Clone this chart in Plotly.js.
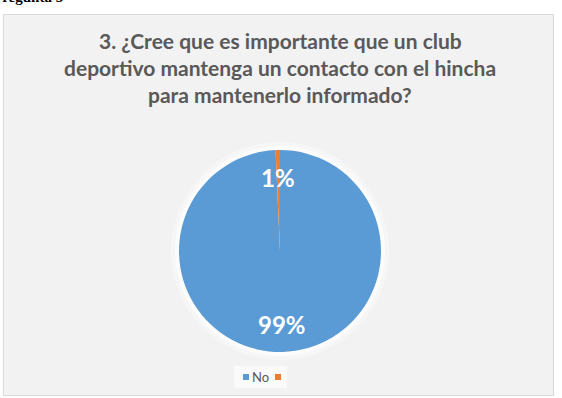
<!DOCTYPE html>
<html>
<head>
<meta charset="utf-8">
<script src="https://cdn.plot.ly/plotly-3.0.1.min.js"></script>
<style>html,body{margin:0;padding:0;background:#fff;overflow:hidden}#chart{width:562px;height:398px}</style>
</head>
<body>
<div id="chart"></div>
<script>
// Data
const labels = ["No", ""];
const values = [99.3, 0.7];
const colors = ["#5b9bd5", "#ed7d31"];
const titleLines = ["3. ¿Cree que es importante que un club", "deportivo mantenga un contacto con el hincha", "para mantenerlo informado?"];
const headerText = "Pregunta 3";

const W = 562, H = 398;
const px = x => x / W;
const py = y => 1 - y / H;

// Pie geometry (pixels)
const cx = 280, cy = 251, R = 101;

const total = values.reduce((a, b) => a + b, 0);
const annotations = [];
let cum = 0;
values.forEach((v, i) => {
  const frac = v / total;
  const mid = (cum + frac / 2) * 2 * Math.PI; // clockwise from top
  cum += frac;
  const rr = 0.73 * R;
  const x = cx + rr * Math.sin(mid);
  const y = cy - rr * Math.cos(mid);
  annotations.push({
    xref: "paper", yref: "paper", x: px(x), y: py(y),
    text: Math.round(frac * 100) + "%", showarrow: false,
    xanchor: "center", yanchor: "middle",
    font: {family: "Lato, 'Open Sans', sans-serif", size: 24, color: "#ffffff", weight: "bold"}
  });
});

// Title lines
titleLines.forEach((t, i) => {
  annotations.push({
    xref: "paper", yref: "paper", x: px(280), y: py(41 + i * 26.5),
    text: "<b>" + t + "</b>", showarrow: false, xanchor: "center", yanchor: "middle",
    font: {family: "Lato, 'Open Sans', sans-serif", size: 21, color: "#595959"}
  });
});

// Header text (cut off at top, as in the reference)
annotations.push({
  xref: "paper", yref: "paper", x: px(-9), y: py(-3),
  text: "<b>" + headerText + "</b>", showarrow: false, xanchor: "left", yanchor: "middle",
  font: {family: "'Liberation Serif', 'Times New Roman', serif", size: 15, color: "#000000"}
});

// Legend (manual)
const legendShapes = [];
const legX = [243, 275];
labels.forEach((l, i) => {
  legendShapes.push({
    type: "rect", xref: "paper", yref: "paper",
    x0: px(legX[i]), x1: px(legX[i] + 6), y0: py(380), y1: py(374),
    fillcolor: colors[i], line: {width: 0}
  });
  if (l) {
    annotations.push({
      xref: "paper", yref: "paper", x: px(legX[i] + 7), y: py(377),
      text: l, showarrow: false, xanchor: "left", yanchor: "middle",
      font: {family: "Lato, 'Open Sans', sans-serif", size: 13, color: "#595959"}
    });
  }
});

const shapes = [
  {type: "rect", xref: "paper", yref: "paper", x0: px(3.5), x1: px(553.5), y0: py(395.5), y1: py(14.5),
   fillcolor: "#f2f2f2", line: {color: "#d9d9d9", width: 1}, layer: "below"},
  {type: "rect", xref: "paper", yref: "paper", x0: px(234), x1: px(287), y0: py(388), y1: py(366),
   fillcolor: "#fafafa", line: {width: 0}, layer: "below"},
  {type: "circle", xref: "paper", yref: "paper", x0: px(cx - R - 4), x1: px(cx + R + 4), y0: py(cy + R + 4), y1: py(cy - R - 4),
   fillcolor: "rgba(255,255,255,0.6)", line: {width: 0}, layer: "below"},
  {type: "circle", xref: "paper", yref: "paper", x0: px(cx - R - 8), x1: px(cx + R + 8), y0: py(cy + R + 8), y1: py(cy - R - 8),
   fillcolor: "rgba(255,255,255,0.35)", line: {width: 0}, layer: "below"}
].concat(legendShapes);

const trace = {
  type: "pie", labels: labels, values: values, sort: false, direction: "clockwise", rotation: 0,
  marker: {colors: colors, line: {width: 0}},
  textinfo: "none", hoverinfo: "none",
  domain: {x: [px(cx - R), px(cx + R)], y: [py(cy + R), py(cy - R)]}
};

Plotly.newPlot("chart", [trace], {
  width: W, height: H, margin: {l: 0, r: 0, t: 0, b: 0},
  paper_bgcolor: "#ffffff", plot_bgcolor: "rgba(0,0,0,0)",
  showlegend: false, shapes: shapes, annotations: annotations
}, {staticPlot: true});
</script>
</body>
</html>
